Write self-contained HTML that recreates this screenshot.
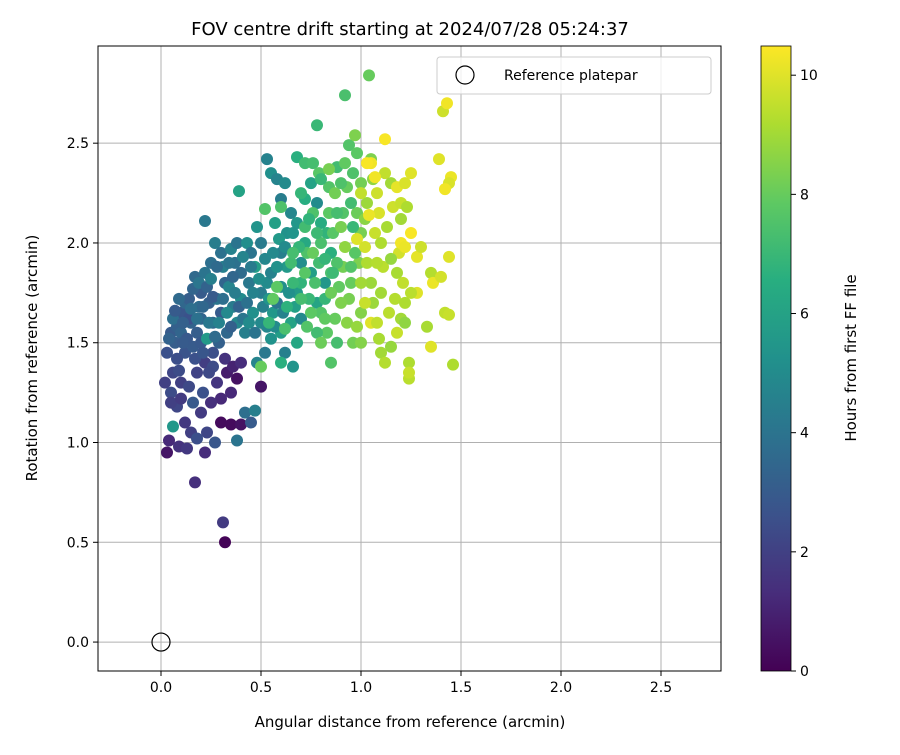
<!DOCTYPE html>
<html><head><meta charset="utf-8"><style>
body{margin:0;background:#fff;font-family:"Liberation Sans","DejaVu Sans",sans-serif;}
svg text{font-family:"DejaVu Sans","Liberation Sans",sans-serif;fill:#000;}
</style></head><body>
<svg id="chart" width="900" height="750" viewBox="0 0 900 750" xmlns="http://www.w3.org/2000/svg">
<defs>
<linearGradient id="vir" x1="0" y1="1" x2="0" y2="0">
<stop offset="0" stop-color="#440154"/><stop offset="0.125" stop-color="#472d7b"/><stop offset="0.25" stop-color="#3b528b"/><stop offset="0.375" stop-color="#2c728e"/><stop offset="0.5" stop-color="#21918c"/><stop offset="0.625" stop-color="#28ae80"/><stop offset="0.75" stop-color="#5ec962"/><stop offset="0.875" stop-color="#addc30"/><stop offset="1" stop-color="#fde725"/>
</linearGradient>
<clipPath id="clip"><rect x="98" y="46" width="623" height="625"/></clipPath>
</defs>
<text x="410" y="35" font-size="18" text-anchor="middle">FOV centre drift starting at 2024/07/28 05:24:37</text>
<g id="grid"></g>
<g id="points" clip-path="url(#clip)"></g>
<rect x="98" y="46" width="623" height="625" fill="none" stroke="#000" stroke-width="1"/>
<g id="ticks"></g>
<text x="410" y="727" font-size="15" text-anchor="middle">Angular distance from reference (arcmin)</text>
<text transform="translate(37,358) rotate(-90)" font-size="15" text-anchor="middle">Rotation from reference (arcmin)</text>
<g>
<rect x="437" y="57" width="274" height="37" rx="3" fill="#fff" fill-opacity="0.8" stroke="#ccc"/>
<circle cx="465" cy="75" r="9" fill="none" stroke="#000" stroke-width="1.2"/>
<text x="504" y="80" font-size="14">Reference platepar</text>
</g>
<rect x="761" y="46" width="30" height="625" fill="url(#vir)" stroke="#000" stroke-width="0.8"/>
<g id="cbticks"></g>
<text transform="translate(856,358) rotate(-90)" font-size="15" text-anchor="middle">Hours from first FF file</text>
</svg>
<script>
const xTicks=[0,0.5,1.0,1.5,2.0,2.5];
const yTicks=[0,0.5,1.0,1.5,2.0,2.5];
const cTicks=[0,2,4,6,8,10];
const observations=[
[0.32,0.50,0.1],[0.31,0.60,1.8],[0.17,0.80,1.4],[0.03,0.95,0.6],[0.04,1.01,1.2],[0.09,0.98,1.5],[0.22,0.95,1.3],[0.30,1.10,0.3],[0.35,1.09,0.3],[0.40,1.09,0.5],[0.38,1.01,4.0],[0.50,1.28,0.6],[0.38,1.32,0.5],[0.33,1.35,0.8],[0.30,1.22,1.2],[0.25,1.2,1.4],[0.20,1.15,1.8],[0.15,1.05,2.0],[0.12,1.1,1.7],[0.08,1.18,2.2],[0.05,1.25,2.4],[0.03,1.45,2.6],[0.06,1.35,2.2],[0.10,1.30,2.0],[0.14,1.28,2.3],[0.18,1.35,2.1],[0.22,1.40,1.9],[0.26,1.45,2.5],[0.28,1.30,1.6],[0.32,1.42,1.5],[0.35,1.25,1.2],[0.42,1.15,3.8],[0.45,1.1,3.0],[0.47,1.16,4.5],[0.23,1.05,2.2],[0.27,1.0,2.8],[0.18,1.02,2.5],[0.13,0.97,1.7],[0.06,1.08,5.5],[0.05,1.2,2.0],[0.1,1.22,1.8],[0.16,1.2,2.9],[0.21,1.25,2.6],[0.36,1.38,1.0],[0.4,1.4,1.3],
[0.05,1.55,3.0],[0.08,1.58,3.2],[0.1,1.65,2.8],[0.12,1.7,3.5],[0.14,1.72,3.1],[0.15,1.6,3.3],[0.17,1.83,3.6],[0.2,1.75,3.0],[0.22,1.85,4.0],[0.22,2.11,4.2],[0.25,1.9,3.8],[0.27,2.0,4.4],[0.3,1.95,3.9],[0.32,1.8,3.4],[0.35,1.97,4.6],[0.38,2.0,4.0],[0.4,1.85,3.7],[0.18,1.55,3.1],[0.2,1.62,3.4],[0.24,1.7,3.2],[0.26,1.6,3.6],[0.28,1.72,4.1],[0.3,1.65,3.0],[0.33,1.55,3.5],[0.36,1.68,4.3],[0.38,1.6,4.8],[0.4,1.72,5.0],[0.42,1.55,4.5],[0.44,1.8,4.2],[0.46,1.65,5.2],[0.12,1.45,2.7],[0.16,1.48,3.0],[0.2,1.5,2.9],[0.23,1.52,5.6],[0.26,1.38,2.4],[0.29,1.5,3.2],[0.08,1.42,2.5],[0.1,1.55,3.4],[0.14,1.62,2.6],[0.06,1.62,3.8],[0.07,1.5,3.1],[0.19,1.68,3.7],[0.31,1.88,4.5],[0.34,1.78,4.7],[0.37,1.9,3.9],[0.39,2.26,6.0],[0.43,2.0,5.1],[0.45,1.95,4.0],[0.48,2.08,5.4],[0.5,2.0,4.3],[0.52,1.92,4.8],[0.47,1.88,5.8],[0.5,1.75,4.4],[0.53,1.8,5.0],[0.55,1.85,4.6],[0.5,1.6,4.9],[0.52,1.45,4.2],[0.55,1.52,5.3],[0.48,1.4,4.7],[0.56,1.65,5.5],[0.58,1.7,4.1],[0.6,1.78,5.1],[0.53,2.42,4.6],[0.55,2.35,5.2],[0.58,2.32,4.7],[0.6,2.22,4.4],[0.62,2.3,5.0],[0.57,2.1,5.9],[0.63,2.05,5.3],[0.65,2.15,4.8],[0.6,1.95,4.5],[0.63,1.88,5.6],[0.6,1.55,5.8],[0.62,1.45,4.5],[0.66,1.38,5.4],[0.68,1.5,6.2],[0.65,1.6,6.0],[0.7,1.62,4.9],[0.68,1.75,5.7],[0.7,1.9,5.1],[0.72,2.0,6.3],[0.68,2.1,5.5],[0.72,2.22,6.5],[0.75,2.3,6.0],[0.78,2.2,5.0],[0.8,2.1,6.4],[0.75,1.85,5.8],[0.78,1.7,6.1],[0.82,1.8,5.5],[0.85,1.95,6.6],[0.83,2.05,6.8],[0.68,2.43,6.6],[0.72,2.4,7.2],[0.78,2.59,7.0],[0.76,2.4,7.3],
[0.04,1.52,3.3],[0.07,1.66,3.0],[0.09,1.72,3.6],[0.11,1.6,3.2],[0.13,1.52,2.9],[0.15,1.67,3.8],[0.16,1.77,3.4],[0.18,1.62,3.9],[0.19,1.8,4.1],[0.21,1.68,3.5],[0.23,1.78,3.3],[0.24,1.6,4.2],[0.25,1.82,4.5],[0.26,1.73,3.0],[0.27,1.53,3.7],[0.28,1.88,3.6],[0.29,1.6,4.6],[0.31,1.72,3.8],[0.33,1.65,4.9],[0.34,1.9,4.0],[0.35,1.58,3.2],[0.36,1.83,3.5],[0.37,1.75,4.4],[0.39,1.68,3.3],[0.41,1.62,4.1],[0.41,1.93,4.7],[0.43,1.7,3.9],[0.44,1.6,5.0],[0.45,1.88,4.3],[0.46,1.75,4.6],[0.47,1.55,4.0],[0.49,1.82,5.1],[0.51,1.68,4.5],[0.53,1.58,4.8],[0.54,1.72,5.4],[0.56,1.95,4.9],[0.57,1.58,5.0],[0.58,1.88,5.3],[0.59,2.02,5.6],[0.61,1.65,4.6],[0.62,1.98,5.0],[0.64,1.75,5.2],[0.66,2.05,5.4],[0.67,1.68,5.9],[0.17,1.42,2.6],[0.21,1.45,2.8],[0.24,1.35,2.3],[0.09,1.36,2.4],[0.11,1.5,3.0],[0.02,1.3,2.0],
[0.65,1.9,7.2],[0.7,1.8,6.8],[0.73,1.95,7.5],[0.74,1.72,7.0],[0.77,1.8,7.4],[0.79,1.9,7.2],[0.8,1.65,7.6],[0.82,1.72,6.9],[0.83,1.55,7.8],[0.85,1.85,7.4],[0.86,2.05,7.7],[0.87,1.62,8.0],[0.89,1.78,7.9],[0.91,1.88,8.2],[0.91,2.15,7.6],[0.93,2.28,8.0],[0.94,1.72,8.3],[0.96,2.35,7.5],[0.98,2.15,8.1],[0.99,1.9,8.4],[0.76,2.15,7.5],[0.72,2.08,7.2],[0.69,1.98,6.9],[0.88,2.38,7.2],[0.84,2.28,7.6],[0.79,2.35,7.7],
[1.07,2.05,9.6],[1.09,2.15,9.9],[1.11,1.88,9.4],[1.13,2.08,9.1],[1.14,1.65,9.4],[1.16,2.18,9.7],[1.17,1.72,9.3],[1.19,1.95,9.8],[1.21,1.8,9.5],[1.03,1.9,9.2],[1.06,1.7,8.9],[1.09,1.52,9.1],
[0.5,1.38,8.0],[0.52,2.17,7.6],[0.58,1.78,7.8],[0.6,2.18,7.5],[0.62,1.57,7.4],[0.66,1.8,7.0],[0.7,1.72,7.3],[0.73,1.58,7.6],[0.75,1.65,7.8],[0.78,1.55,7.2],[0.8,1.5,8.1],[0.82,1.62,7.9],[0.85,1.4,7.6],[0.88,1.5,7.3],[0.72,1.85,7.7],[0.76,1.95,8.0],[0.8,2.0,7.4],[0.84,2.15,7.8],[0.87,2.25,8.2],[0.9,2.3,7.5],[0.92,2.4,7.9],[0.94,2.49,7.6],[0.92,2.74,7.4],[0.97,2.54,8.4],[1.04,2.84,8.0],[0.98,2.45,7.8],[0.95,2.2,7.2],[0.9,2.08,8.3],[0.88,1.9,7.5],[0.85,1.75,8.1],[0.9,1.7,8.4],[0.93,1.6,8.6],[0.96,1.5,8.2],[0.98,1.58,8.8],[1.0,1.65,8.5],[0.95,1.8,8.0],[0.97,1.95,7.7],[1.0,2.05,8.3],[1.02,2.12,8.6],[1.0,2.3,8.2],[1.03,2.2,8.9],[1.05,2.42,8.4],[1.06,2.32,8.7],[0.92,1.98,8.7],[0.86,1.85,7.1],[0.82,1.92,6.9],[0.78,2.05,7.1],[0.74,2.12,6.8],[0.7,2.25,6.9],[0.8,2.32,7.0],[0.84,2.37,8.3],[0.88,2.15,7.3],[0.66,1.95,7.3],[0.63,1.68,6.7],[0.56,1.72,7.9],[0.54,1.6,6.9],[0.6,1.4,6.6],[0.95,1.88,7.6],[0.96,2.08,7.0],
[0.98,2.02,10.0],[1.0,2.25,9.5],[1.02,1.98,9.8],[1.04,2.14,10.2],[1.05,2.4,10.3],[1.08,2.25,9.7],[1.1,2.0,9.2],[1.12,2.35,9.5],[1.12,2.52,10.4],[1.15,2.3,9.0],[1.18,2.28,10.1],[1.2,2.2,9.6],[1.22,2.3,9.9],[1.25,2.35,10.0],[1.2,2.0,10.3],[1.22,1.98,10.2],[1.25,2.05,10.4],[1.28,1.93,10.1],[1.3,1.98,9.7],[1.28,1.75,10.0],[1.22,1.7,9.2],[1.25,1.75,9.4],[1.18,1.85,9.1],[1.15,1.92,8.8],[1.1,1.75,9.0],[1.08,1.9,9.3],[1.05,1.8,8.9],[1.02,1.7,9.6],[1.05,1.6,10.0],[1.08,1.6,9.5],[1.1,1.45,9.0],[1.12,1.4,9.3],[1.15,1.48,8.8],[1.18,1.55,9.6],[1.2,1.62,9.0],[1.22,1.6,8.7],[1.24,1.4,9.2],[1.24,1.32,9.4],[1.24,1.35,9.6],[1.33,1.58,9.1],[1.35,1.48,10.0],[1.35,1.85,9.3],[1.36,1.8,10.2],[1.4,1.83,9.8],[1.42,1.65,9.5],[1.44,1.64,9.6],[1.46,1.39,9.2],[1.44,1.93,10.0],[1.39,2.42,10.0],[1.41,2.66,9.7],[1.43,2.7,10.3],[1.45,2.33,10.2],[1.44,2.3,9.9],[1.42,2.27,10.3],[1.2,2.12,9.0],[1.23,2.18,9.2],[1.03,2.4,10.4],[1.07,2.33,10.3],[1.0,1.5,8.5],[1.0,1.8,9.0]
];
const xVals=observations.map(o=>o[0]);
const yVals=observations.map(o=>o[1]);
const hours=observations.map(o=>o[2]);
const refPoint=[0,0];

const NS='http://www.w3.org/2000/svg';
const X0=98,X1=721,Y0=671,Y1=46;
const xMin=-0.315,xMax=2.8,yMin=-0.145,yMax=2.987,cMax=10.49;
const sx=v=>X0+(v-xMin)/(xMax-xMin)*(X1-X0);
const sy=v=>Y0-(v-yMin)/(yMax-yMin)*(Y0-Y1);
const sc=v=>671-v/cMax*625;
const stops=[[68,1,84],[71,45,123],[59,82,139],[44,114,142],[33,145,140],[40,174,128],[94,201,98],[173,220,48],[253,231,37]];
function vir(t){t=Math.max(0,Math.min(1,t))*8;const i=Math.min(7,Math.floor(t)),f=t-i,a=stops[i],b=stops[i+1];return 'rgb('+a.map((c,k)=>Math.round(c+(b[k]-c)*f)).join(',')+')';}
function mk(tag,attrs,parent){const e=document.createElementNS(NS,tag);for(const k in attrs)e.setAttribute(k,attrs[k]);parent.appendChild(e);return e;}
const grid=document.getElementById('grid'),ticks=document.getElementById('ticks'),pts=document.getElementById('points'),cb=document.getElementById('cbticks');
xTicks.forEach(v=>{const x=sx(v);
 const g=mk('line',{x1:x,x2:x,y1:Y1,y2:Y0,stroke:'#b0b0b0','stroke-width':1},grid);
 mk('line',{x1:x,x2:x,y1:Y0,y2:Y0+5,stroke:'#000'},ticks);
 const t=mk('text',{x:x,y:Y0+21,'font-size':14,'text-anchor':'middle'},ticks);t.textContent=v.toFixed(1);
 });
yTicks.forEach(v=>{const y=sy(v);
 const g=mk('line',{x1:X0,x2:X1,y1:y,y2:y,stroke:'#b0b0b0','stroke-width':1},grid);
 mk('line',{x1:X0-5,x2:X0,y1:y,y2:y,stroke:'#000'},ticks);
 const t=mk('text',{x:X0-9,y:y+5,'font-size':14,'text-anchor':'end'},ticks);t.textContent=v.toFixed(1);
 });
cTicks.forEach(v=>{const y=sc(v);
 mk('line',{x1:791,x2:796,y1:y,y2:y,stroke:'#000'},cb);
 const t=mk('text',{x:800,y:y+5,'font-size':14},cb);t.textContent=v;
 });
xVals.forEach((x,i)=>{const c=mk('circle',{cx:sx(x),cy:sy(yVals[i]),r:6,fill:vir(hours[i]/cMax)},pts);
 
 });
const ref=mk('circle',{cx:sx(refPoint[0]),cy:sy(refPoint[1]),r:9,fill:'none',stroke:'#000','stroke-width':1.2},pts);


</script>
</body></html>
